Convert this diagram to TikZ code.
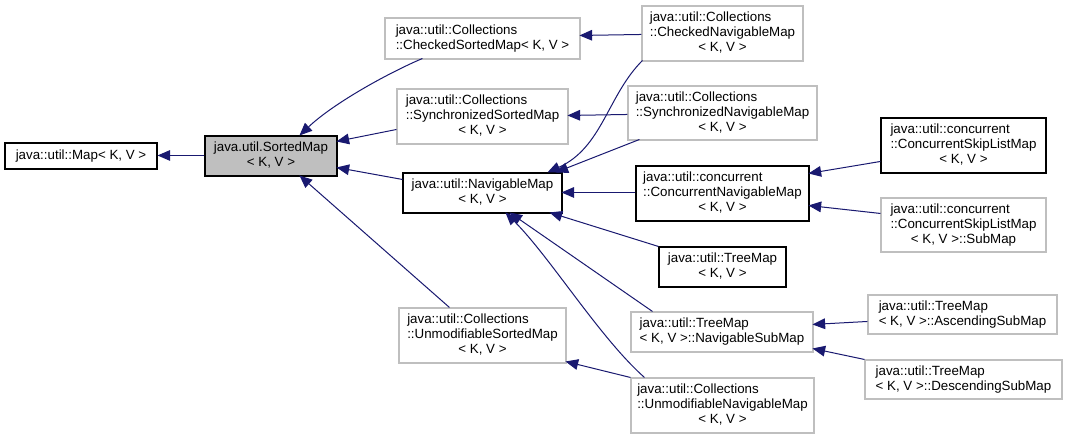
\documentclass[tikz,border=0pt]{standalone}
\usepackage{fontspec}
\setmainfont{Liberation Sans}
\usetikzlibrary{arrows.meta,calc}
\definecolor{edgec}{HTML}{191970}
\definecolor{greyb}{HTML}{BFBFBF}
\newcommand\cbox[7]{\node[#1,minimum width={(#5-#3)*0.75pt},minimum height={(#6-#4)*0.75pt}] (#2) at ({(#3+#5)/2},{(#4+#6)/2}) {#7};}
\newcommand\twol[2]{\begin{tabular}{@{}l@{}}#1\\#2\end{tabular}}
\newcommand\twoc[2]{\begin{tabular}{@{}l@{}}#1\\\multicolumn{1}{@{}c@{}}{#2}\end{tabular}}
\newcommand\threec[3]{\begin{tabular}{@{}l@{}}#1\\#2\\\multicolumn{1}{@{}c@{}}{#3}\end{tabular}}
\begin{document}
\begin{tikzpicture}[x=0.75pt,y=-0.75pt,
  cls/.style={draw=black,line width=0.8pt,fill=white,inner sep=0pt,font=\fontsize{10}{11.25}\selectfont},
  undoc/.style={cls,draw=greyb},
  cur/.style={cls,fill=greyb},
  edge/.style={draw=edgec,line width=0.75pt,-{Triangle[length=9.5pt,width=8pt]}}]
\useasboundingbox (0,0) rectangle (1067,439);
\fill[white] (0,0) rectangle (1067,439);
\cbox{cls}{map}{5}{143}{157}{169}{java::util::Map< K, V >}
\cbox{cur}{sm}{205}{136}{337}{176}{\twoc{java.util.SortedMap}{< K, V >}}
\cbox{undoc}{cso}{385}{18}{580}{59}{\twol{java::util::Collections}{::CheckedSortedMap< K, V >}}
\cbox{undoc}{sso}{397}{89}{568}{144}{\threec{java::util::Collections}{::SynchronizedSortedMap}{< K, V >}}
\cbox{cls}{nav}{403}{173}{562}{213}{\twoc{java::util::NavigableMap}{< K, V >}}
\cbox{undoc}{usm}{399}{308}{566}{363}{\threec{java::util::Collections}{::UnmodifiableSortedMap}{< K, V >}}
\cbox{undoc}{cnm}{642}{6}{803}{61}{\threec{java::util::Collections}{::CheckedNavigableMap}{< K, V >}}
\cbox{undoc}{snm}{628}{86}{817}{140}{\threec{java::util::Collections}{::SynchronizedNavigableMap}{< K, V >}}
\cbox{cls}{cnav}{636}{166}{809}{221}{\threec{java::util::concurrent}{::ConcurrentNavigableMap}{< K, V >}}
\cbox{cls}{tm}{659}{247}{786}{287}{\twoc{java::util::TreeMap}{< K, V >}}
\cbox{undoc}{nsm}{631}{312}{813}{352}{\twoc{java::util::TreeMap}{< K, V >::NavigableSubMap}}
\cbox{undoc}{unm}{631}{378}{814}{433}{\threec{java::util::Collections}{::UnmodifiableNavigableMap}{< K, V >}}
\cbox{cls}{csl}{881}{118}{1046}{173}{\threec{java::util::concurrent}{::ConcurrentSkipListMap}{< K, V >}}
\cbox{undoc}{sub}{881}{198}{1046}{252}{\threec{java::util::concurrent}{::ConcurrentSkipListMap}{< K, V >::SubMap}}
\cbox{undoc}{asm}{868}{295}{1057}{334}{\twol{java::util::TreeMap}{< K, V >::AscendingSubMap}}
\cbox{undoc}{dsm}{865}{360}{1062}{399}{\twol{java::util::TreeMap}{< K, V >::DescendingSubMap}}
% edges
\draw[edge] ($(sm.north west)+(0,20)$) -- ($(map.north east)+(0,13)$);
\draw[edge] ($(cso.north west)+(38,41)$) .. controls +(-33,14) and +(35,-33) .. ($(sm.north west)+(95,0)$);
\draw[edge] ($(sso.north west)+(0,41)$) -- ($(sm.north west)+(132,6)$);
\draw[edge] ($(nav.north west)+(0,7)$) -- ($(sm.north west)+(132,32)$);
\draw[edge] ($(usm.north west)+(51,0)$) -- ($(sm.north west)+(95,40)$);
\draw[edge] ($(cnm.north west)+(0,29)$) -- ($(cso.north west)+(195,18)$);
\draw[edge] ($(cnm.north west)+(1,55)$) .. controls +(-35,35) and +(55,-25) .. ($(nav.north west)+(145,0)$);
\draw[edge] ($(snm.north west)+(0,29)$) -- ($(sso.north west)+(171,27)$);
\draw[edge] ($(snm.north west)+(12,54)$) -- ($(nav.north west)+(153,0)$);
\draw[edge] ($(cnav.north west)+(0,27)$) -- ($(nav.north west)+(159,20)$);
\draw[edge] ($(csl.north west)+(0,44)$) -- ($(cnav.north west)+(173,8)$);
\draw[edge] ($(sub.north west)+(0,16)$) -- ($(cnav.north west)+(173,40)$);
\draw[edge] (tm.north west) -- ($(nav.north west)+(147,40)$);
\draw[edge] ($(nsm.north west)+(22,0)$) -- ($(nav.north west)+(107,40)$);
\draw[edge] ($(unm.north west)+(14,0)$) .. controls +(-45,-40) and +(45,45) .. ($(nav.north west)+(103,40)$);
\draw[edge] (unm.north west) -- ($(usm.north west)+(167,54)$);
\draw[edge] ($(asm.north west)+(0,27)$) -- ($(nsm.north west)+(182,13)$);
\draw[edge] (dsm.north west) -- ($(nsm.north west)+(182,37)$);
\end{tikzpicture}
\end{document}
